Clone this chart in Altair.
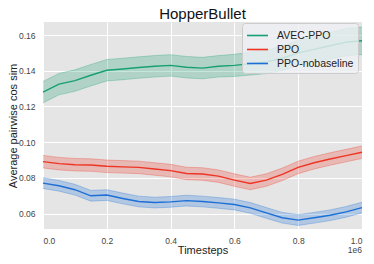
import altair as alt
import pandas as pd

t = [0.0, 0.05, 0.1, 0.15, 0.2, 0.25, 0.3, 0.35, 0.4, 0.45, 0.5,
     0.55, 0.6, 0.65, 0.7, 0.75, 0.8, 0.85, 0.9, 0.95, 1.0]

avec_mean = [0.128, 0.1325, 0.1345, 0.1375, 0.1403, 0.141, 0.1418, 0.1425, 0.143, 0.142, 0.1415,
             0.1425, 0.143, 0.144, 0.145, 0.147, 0.150, 0.152, 0.154, 0.156, 0.1568]
avec_err = [0.006, 0.006, 0.006, 0.006, 0.006, 0.006, 0.006, 0.006, 0.006, 0.006, 0.006,
            0.006, 0.0062, 0.0064, 0.0066, 0.0068, 0.007, 0.0072, 0.0074, 0.0076, 0.0077]

ppo_mean = [0.0891, 0.088, 0.0874, 0.0872, 0.0865, 0.0862, 0.0859, 0.085, 0.0841, 0.0825, 0.0822,
            0.081, 0.0788, 0.0769, 0.0788, 0.082, 0.0859, 0.0885, 0.0906, 0.0925, 0.0944]
ppo_err = [0.0035] * 21

nob_mean = [0.0771, 0.0756, 0.0734, 0.0700, 0.0704, 0.0685, 0.0668, 0.0662, 0.0666, 0.0673, 0.0668,
            0.066, 0.0651, 0.0632, 0.0604, 0.0577, 0.0564, 0.0577, 0.0591, 0.061, 0.0634]
nob_err = [0.003] * 21

series_names = ["AVEC-PPO", "PPO", "PPO-nobaseline"]
series_colors = ["#16a071", "#ee3524", "#1c6fd6"]

rows = []
for name, m, e in [(series_names[0], avec_mean, avec_err),
                   (series_names[1], ppo_mean, ppo_err),
                   (series_names[2], nob_mean, nob_err)]:
    for ti, mi, ei in zip(t, m, e):
        rows.append({"t": ti, "series": name, "mean": mi, "lo": mi - ei, "hi": mi + ei})
df = pd.DataFrame(rows)

FONT = "Liberation Sans"
W, H = 319, 207

cscale = alt.Scale(domain=series_names, range=series_colors)
legend = alt.Legend(title=None, orient="none", legendX=199, legendY=1,
                    symbolType="M-1,0H1.8", symbolSize=225,
                    symbolStrokeWidth=1.6, symbolFillColor="transparent",
                    symbolOpacity=1, labelOffset=14,
                    labelFontSize=10.5, labelFont=FONT, labelColor="#222",
                    rowPadding=0, padding=4, cornerRadius=3,
                    fillColor="rgba(238,240,244,0.8)", strokeColor="#cccccc")
color = alt.Color("series:N", scale=cscale, sort=series_names, legend=legend)

xenc = alt.X("t:Q", scale=alt.Scale(domain=[0, 1], nice=False),
             axis=alt.Axis(values=[0, 0.2, 0.4, 0.6, 0.8, 1.0], format=".1f", title="Timesteps",
                           ticks=False, labelPadding=7, titlePadding=0))
yscale = alt.Scale(domain=[0.0514, 0.1673], nice=False, zero=False)

band = alt.Chart(df).mark_area(opacity=0.25).encode(
    x=xenc,
    y=alt.Y("lo:Q", scale=yscale,
            axis=alt.Axis(values=[0.06, 0.08, 0.10, 0.12, 0.14, 0.16], format=".2f",
                          title="Average pairwise cos sim", ticks=False, labelPadding=8,
                          titlePadding=0)),
    y2="hi:Q",
    color=color,
)

edge_lo = alt.Chart(df).mark_line(strokeWidth=1, opacity=0.3).encode(
    x="t:Q", y="lo:Q", color=color)
edge_hi = alt.Chart(df).mark_line(strokeWidth=1, opacity=0.3).encode(
    x="t:Q", y="hi:Q", color=color)

line = alt.Chart(df).mark_line(strokeWidth=1.4).encode(
    x="t:Q", y="mean:Q", color=color)

sci = alt.Chart(pd.DataFrame({"txt": ["1e6"]})).mark_text(
    fontSize=8.5, font=FONT, color="#444", align="right", baseline="middle"
).encode(x=alt.value(W), y=alt.value(H + 21), text="txt:N")

chart = alt.layer(band, edge_lo, edge_hi, line, sci).properties(
    width=W, height=H,
    title=alt.TitleParams("HopperBullet", fontSize=15, font=FONT, fontWeight="normal",
                          color="#111", offset=0),
    autosize=alt.AutoSizeParams(type="none"),
    padding={"left": 35, "top": 14, "right": 4, "bottom": 27},
).configure(background="white").configure_view(
    fill="#e5e5e5", stroke=None
).configure_axis(
    grid=True, gridColor="white", gridWidth=1, domain=False,
    labelFont=FONT, labelFontSize=8.5, labelColor="#444",
    titleFont=FONT, titleFontSize=11, titleFontWeight="normal", titleColor="#222",
)

chart.save("out.html", embed_options={"renderer": "svg", "actions": False})
